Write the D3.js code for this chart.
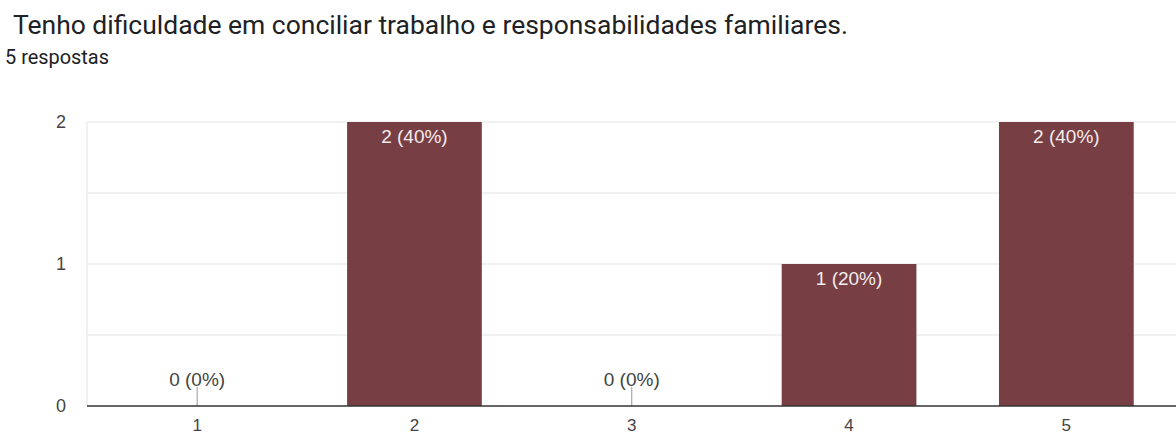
<!DOCTYPE html>
<html><head><meta charset="utf-8">
<script src="https://cdn.jsdelivr.net/npm/d3@7"></script>
<style>body{margin:0;background:#fff}svg{display:block}</style>
</head><body>
<svg id="c" width="1176" height="435"></svg>
<script>
const title = "Tenho dificuldade em conciliar trabalho e responsabilidades familiares.";
const subtitle = "5 respostas";
const categories = ["1","2","3","4","5"];
const counts = [0,2,0,1,2];
const labels = ["0 (0%)","2 (40%)","0 (0%)","1 (20%)","2 (40%)"];
const yTicks = [0,1,2];
const yGrid = [0,0.5,1,1.5,2];

const svg = d3.select("#c");
const W=1176,H=435;
const m={l:88.5,r:1,t:122,b:29};
const x=d3.scaleBand().domain(categories).range([m.l,W-m.r]).paddingInner(0.38).paddingOuter(0.19);
const y=d3.scaleLinear().domain([0,2]).range([H-m.b,m.t]);

function fit(sel, target){
  const w=sel.node().getComputedTextLength();
  const fs=parseFloat(sel.attr("font-size"));
  sel.attr("font-size",(fs*target/w).toFixed(2));
}
const t=svg.append("text").attr("x",13).attr("y",34).attr("font-family","Roboto").attr("font-size",22).attr("fill","#202124").text(title);
fit(t,835);
const s=svg.append("text").attr("x",5).attr("y",64).attr("font-family","Roboto").attr("font-size",14).attr("fill","#202124").text(subtitle);
fit(s,104);

// grid
svg.append("g").selectAll("line").data(yGrid.filter(d=>d>0)).join("line")
 .attr("x1",87).attr("x2",W).attr("y1",d=>y(d)).attr("y2",d=>y(d))
 .attr("stroke","#ececec").attr("stroke-width",1.5);
svg.append("line").attr("x1",87).attr("x2",87).attr("y1",m.t).attr("y2",y(0)).attr("stroke","#ececec").attr("stroke-width",1.5);

// y axis labels
const ya=svg.append("g").attr("transform",`translate(${66},0)`).call(d3.axisLeft(y).tickValues(yTicks).tickSize(0).tickPadding(0).tickFormat(d3.format("d")));
ya.select(".domain").remove();
ya.selectAll("text").attr("font-family","Liberation Sans, Arial").attr("font-size",18).attr("fill","#444");

// bars
svg.append("g").selectAll("rect").data(categories).join("rect")
 .attr("x",d=>x(d)).attr("width",x.bandwidth())
 .attr("y",(d,i)=>y(counts[i])).attr("height",(d,i)=>y(0)-y(counts[i]))
 .attr("fill","#773f44");

// zero-value stems
svg.append("g").selectAll("line").data(categories.filter((d,i)=>counts[i]===0)).join("line")
 .attr("x1",d=>x(d)+x.bandwidth()/2).attr("x2",d=>x(d)+x.bandwidth()/2)
 .attr("y1",y(0)).attr("y2",y(0)-19).attr("stroke","#999").attr("stroke-width",1);

// baseline
svg.append("line").attr("x1",87).attr("x2",W).attr("y1",y(0)).attr("y2",y(0)).attr("stroke","#333").attr("stroke-width",1.5);

// x axis
const xa=svg.append("g").attr("transform",`translate(0,${y(0)+13})`).call(d3.axisBottom(x).tickSize(0).tickPadding(0));
xa.select(".domain").remove();
xa.selectAll("text").attr("font-family","Liberation Sans, Arial").attr("font-size",17).attr("fill","#444");

// value labels
svg.append("g").selectAll("text").data(categories).join("text")
 .attr("x",d=>x(d)+x.bandwidth()/2)
 .attr("y",(d,i)=>counts[i]>0?y(counts[i])+21:y(0)-20)
 .attr("text-anchor","middle").attr("font-family","Liberation Sans, Arial").attr("font-size",19)
 .attr("fill",(d,i)=>counts[i]>0?"#f3ecec":"#444")
 .text((d,i)=>labels[i]);
</script>
</body></html>
